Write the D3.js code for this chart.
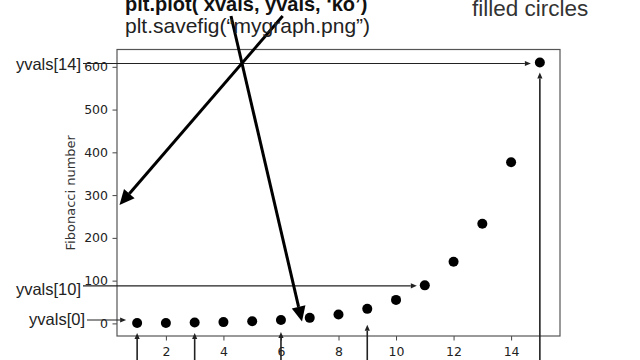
<!DOCTYPE html>
<meta charset="utf-8">
<title>Fibonacci plot</title>
<script src="https://d3js.org/d3.v7.min.js"></script>
<style>
body { margin: 0; background: #fff; }
</style>
<div id="chart"></div>
<script>
// data
const xvals = [1, 2, 3, 4, 5, 6, 7, 8, 9, 10, 11, 12, 13, 14, 15];
const yvals = [1, 1, 2, 3, 5, 8, 13, 21, 34, 55, 89, 144, 233, 377, 610];
const xTicks = [2, 4, 6, 8, 10, 12, 14];
const yTicks = [0, 100, 200, 300, 400, 500, 600];
const yLabel = "Fibonacci number";
const indexLabels = ["yvals[14]", "yvals[10]", "yvals[0]"];
const labelIndex = [14, 10, 0];
const pointedIndex = [0, 2, 5, 8, 14];

const width = 640, height = 360;
const frame = {left: 117, right: 560, top: 49.5, bottom: 336};

const svg = d3.select("#chart")
    .append("svg")
    .attr("width", width)
    .attr("height", height);

// matplotlib style limits: 5% margin on each side
const xpad = (d3.max(xvals) - d3.min(xvals)) * 0.05,
      ypad = (d3.max(yvals) - d3.min(yvals)) * 0.05;
const x = d3.scaleLinear()
    .domain([d3.min(xvals) - xpad, d3.max(xvals) + xpad])
    .range([frame.left, frame.right]);
const y = d3.scaleLinear()
    .domain([d3.min(yvals) - ypad, d3.max(yvals) + ypad])
    .range([frame.bottom, frame.top]);

// axes
const yAxis = svg.append("g")
    .attr("transform", `translate(${frame.left},0)`)
    .call(d3.axisLeft(y).tickValues(yTicks).tickSize(4.5).tickPadding(4.5));
const xAxis = svg.append("g")
    .attr("transform", `translate(0,${frame.bottom})`)
    .call(d3.axisBottom(x).tickValues(xTicks).tickSize(4.5).tickPadding(6.5));
[xAxis, yAxis].forEach(a => {
    a.select(".domain").remove();
    a.selectAll("line").attr("stroke", "#444");
    a.selectAll("text")
        .attr("fill", "#222")
        .style("font-family", "DejaVu Sans")
        .style("font-size", "12.5px");
});

svg.append("rect")
    .attr("x", frame.left)
    .attr("y", frame.top)
    .attr("width", frame.right - frame.left)
    .attr("height", frame.bottom - frame.top)
    .attr("fill", "none")
    .attr("stroke", "#555")
    .attr("stroke-width", 1.2);

svg.append("text")
    .attr("transform", `translate(74.5,${(frame.top + frame.bottom) / 2}) rotate(-90)`)
    .attr("text-anchor", "middle")
    .attr("fill", "#333")
    .style("font-family", "DejaVu Sans")
    .style("font-size", "13px")
    .text(yLabel);

// points
svg.append("g")
    .selectAll("circle")
    .data(xvals)
    .join("circle")
    .attr("cx", d => x(d))
    .attr("cy", (d, i) => y(yvals[i]))
    .attr("r", 5)
    .attr("fill", "#000");

// arrow helper
function arrow(g, x1, y1, x2, y2, w, hl, hw, col) {
    const ang = Math.atan2(y2 - y1, x2 - x1);
    const bx = x2 - hl * Math.cos(ang), by = y2 - hl * Math.sin(ang);
    g.append("line")
        .attr("x1", x1).attr("y1", y1)
        .attr("x2", bx).attr("y2", by)
        .attr("stroke", col)
        .attr("stroke-width", w);
    const px = -Math.sin(ang) * hw, py = Math.cos(ang) * hw;
    g.append("path")
        .attr("d", `M${x2},${y2}L${bx + px},${by + py}L${bx - px},${by - py}Z`)
        .attr("fill", col);
}

const ann = svg.append("g");

// horizontal arrows from the yvals[i] labels to their points
const hStart = [83, 83, 87], hGap = [9, 8, 11], hDy = [1, 0.5, -3], hBase = [6.5, 9.5, 5];
labelIndex.forEach((idx, k) => {
    const py = y(yvals[idx]) + hDy[k];
    arrow(ann, hStart[k], py, x(xvals[idx]) - hGap[k], py, 1.1, 6, 2.6, "#222");
    ann.append("text")
        .attr("x", hStart[k] - 2)
        .attr("y", py + hBase[k])
        .attr("text-anchor", "end")
        .attr("fill", "#222")
        .style("font-family", "Liberation Sans, Arial, sans-serif")
        .style("font-size", "16.5px")
        .text(indexLabels[k]);
});

// vertical arrows from below the chart up to points
const vGap = [10, 10.5, 12, 16, 10];
pointedIndex.forEach((idx, k) => {
    const px = x(xvals[idx]);
    arrow(ann, px, height, px, y(yvals[idx]) + vGap[k], 1.6, 6, 2.6, "#222");
});

// big arrows from the code line
arrow(ann, 282.7, 16, 119.5, 205, 3, 15, 7, "#000");
arrow(ann, 231, 16, 302, 321.5, 3, 15, 7, "#000");

// slide text
const font = "Liberation Sans, Arial, Helvetica, sans-serif";
ann.append("text")
    .attr("x", 125).attr("y", 11)
    .attr("fill", "#111")
    .style("font-family", font)
    .style("font-size", "20px")
    .style("font-weight", "bold")
    .text("plt.plot( xvals, yvals, \u2018ko\u2019)");
ann.append("text")
    .attr("x", 125).attr("y", 33)
    .attr("fill", "#222")
    .style("font-family", font)
    .style("font-size", "21px")
    .text("plt.savefig(\u201cmygraph.png\u201d)");
ann.append("text")
    .attr("x", 472).attr("y", 16)
    .attr("fill", "#333")
    .style("font-family", font)
    .style("font-size", "22.5px")
    .text("filled circles");
</script>
